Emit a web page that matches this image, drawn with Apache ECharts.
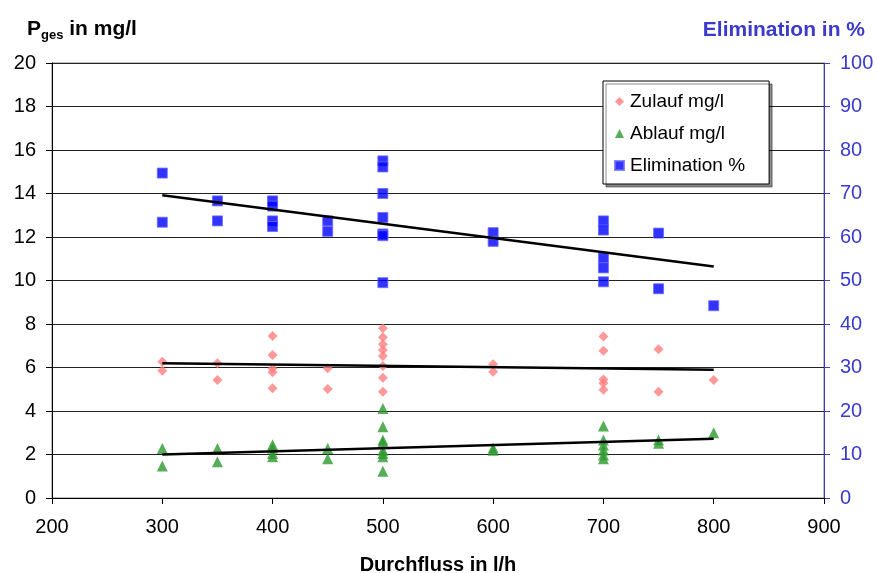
<!DOCTYPE html>
<html>
<head>
<meta charset="utf-8">
<script src="https://cdn.jsdelivr.net/npm/echarts@6/dist/echarts.min.js"></script>
<style>html,body{margin:0;padding:0;background:#fff}#c{width:876px;height:573px}</style>
</head>
<body>
<div id="c"></div>
<script>
// Data (x = Durchfluss in l/h)
const zulauf = [
  [300, 6.27], [300, 5.85],
  [350, 6.19], [350, 5.43],
  [400, 7.45], [400, 6.57], [400, 5.95], [400, 5.78], [400, 5.05],
  [450, 5.96], [450, 5.01],
  [500, 7.8], [500, 7.39], [500, 7.07], [500, 6.8], [500, 6.53], [500, 6.07], [500, 5.53], [500, 4.89],
  [600, 6.15], [600, 5.8],
  [700, 7.42], [700, 6.77], [700, 5.45], [700, 5.28], [700, 4.98],
  [750, 6.84], [750, 4.89],
  [800, 5.43]
];
const ablauf = [
  [300, 2.28], [300, 1.47],
  [350, 2.28], [350, 1.67],
  [400, 2.45], [400, 2.3], [400, 2.05], [400, 1.9],
  [450, 2.28], [450, 1.8],
  [500, 4.12], [500, 3.28], [500, 2.67], [500, 2.55], [500, 2.2], [500, 2.05], [500, 1.9], [500, 1.23],
  [600, 2.3], [600, 2.2],
  [700, 3.31], [700, 2.67], [700, 2.44], [700, 2.21], [700, 1.98], [700, 1.8],
  [750, 2.67], [750, 2.52],
  [800, 3.0]
];
const elimination = [
  [300, 74.7], [300, 63.4],
  [350, 68.3], [350, 63.7],
  [400, 68.3], [400, 67.1], [400, 63.7], [400, 62.4],
  [450, 63.7], [450, 61.3],
  [500, 77.5], [500, 76.1], [500, 70.0], [500, 64.5], [500, 60.7], [500, 60.3], [500, 49.5],
  [600, 61.0], [600, 59.0],
  [700, 63.7], [700, 61.6], [700, 55.2], [700, 52.9], [700, 49.7],
  [750, 60.9], [750, 48.1],
  [800, 44.2]
];
// Trend lines (start / end points)
const trendZulauf = [[300, 6.2], [800, 5.9]];
const trendAblauf = [[300, 2.0], [800, 2.72]];
const trendElim = [[300, 69.6], [800, 53.2]];

const xTicks = {min: 200, max: 900, interval: 100};
const yLeft = {min: 0, max: 20, interval: 2};
const yRight = {min: 0, max: 100, interval: 10};

const FONT = '"Liberation Sans", Arial, sans-serif';
const BLUE = '#3a3acc';

const chart = echarts.init(document.getElementById('c'), null, {renderer: 'canvas'});
chart.setOption({
  animation: false,
  textStyle: {fontFamily: FONT},
  grid: {left: 52, right: 52, top: 63, bottom: 75, show: true, borderColor: '#808080', borderWidth: 1,
    containLabel: false, outerBoundsMode: 'none'},
  title: [
    {left: 22, top: 12, text: '{p|P}{s|ges}{p| in mg/l}',
      textStyle: {rich: {
        p: {fontFamily: FONT, fontSize: 21, fontWeight: 'bold', color: '#000'},
        s: {fontFamily: FONT, fontSize: 13, fontWeight: 'bold', color: '#000', padding: [12, 0, 0, 0]}
      }}},
    {right: 6, top: 15, text: 'Elimination in %',
      textStyle: {fontFamily: FONT, fontSize: 21, fontWeight: 'bold', color: BLUE}}
  ],
  legend: {
    left: 603, top: 81,
    orient: 'vertical',
    padding: [11, 24, 9, 11],
    itemGap: 13,
    itemWidth: 9, itemHeight: 9,
    backgroundColor: '#fff',
    borderColor: '#000', borderWidth: 1,
    shadowColor: 'rgba(0,0,0,0.45)', shadowOffsetX: 3, shadowOffsetY: 3, shadowBlur: 0,
    textStyle: {fontFamily: FONT, fontSize: 19, color: '#000', padding: [0, 0, 0, 1]},
    data: [
      {name: 'Zulauf mg/l', icon: 'diamond'},
      {name: 'Ablauf mg/l', icon: 'triangle'},
      {name: 'Elimination %', icon: 'rect'}
    ]
  },
  xAxis: {
    type: 'value', min: xTicks.min, max: xTicks.max, interval: xTicks.interval,
    name: 'Durchfluss in l/h', nameLocation: 'middle', nameGap: 57,
    nameTextStyle: {fontFamily: FONT, fontSize: 20, fontWeight: 'bold', color: '#000'},
    axisLine: {show: true, onZero: false, lineStyle: {color: '#000', width: 1}},
    axisTick: {show: true, length: 6, lineStyle: {color: '#000'}},
    axisLabel: {fontFamily: FONT, fontSize: 20, color: '#000', margin: 19},
    splitLine: {show: false}
  },
  yAxis: [
    {
      type: 'value', min: yLeft.min, max: yLeft.max, interval: yLeft.interval,
      axisLine: {show: true, lineStyle: {color: '#000'}},
      axisTick: {show: true, length: 6, lineStyle: {color: '#000'}},
      axisLabel: {fontFamily: FONT, fontSize: 20, color: '#000', margin: 16},
      splitLine: {show: true, lineStyle: {color: '#222', width: 1}}
    },
    {
      type: 'value', min: yRight.min, max: yRight.max, interval: yRight.interval,
      position: 'right',
      axisLine: {show: true, lineStyle: {color: BLUE}},
      axisTick: {show: true, length: 6, lineStyle: {color: BLUE}},
      axisLabel: {fontFamily: FONT, fontSize: 20, color: BLUE, margin: 16},
      splitLine: {show: false}
    }
  ],
  series: [
    {name: 'Zulauf mg/l', type: 'scatter', data: zulauf, symbol: 'diamond', symbolSize: 10,
      itemStyle: {color: '#ff8080'}, z: 3},
    {name: 'Ablauf mg/l', type: 'scatter', data: ablauf, symbol: 'triangle', symbolSize: 11,
      itemStyle: {color: '#2e9a2e'}, z: 3},
    {name: 'Elimination %', type: 'scatter', data: elimination, yAxisIndex: 1, symbol: 'rect', symbolSize: 10,
      itemStyle: {color: '#0000ff', borderColor: '#6a6aff', borderWidth: 1}, z: 3},
    {name: 'tZ', type: 'line', data: trendZulauf, showSymbol: false, symbol: 'none',
      lineStyle: {color: '#000', width: 2.5}, z: 4, silent: true},
    {name: 'tA', type: 'line', data: trendAblauf, showSymbol: false, symbol: 'none',
      lineStyle: {color: '#000', width: 2.5}, z: 4, silent: true},
    {name: 'tE', type: 'line', data: trendElim, yAxisIndex: 1, showSymbol: false, symbol: 'none',
      lineStyle: {color: '#000', width: 2.5}, z: 4, silent: true}
  ]
});
</script>
</body>
</html>
